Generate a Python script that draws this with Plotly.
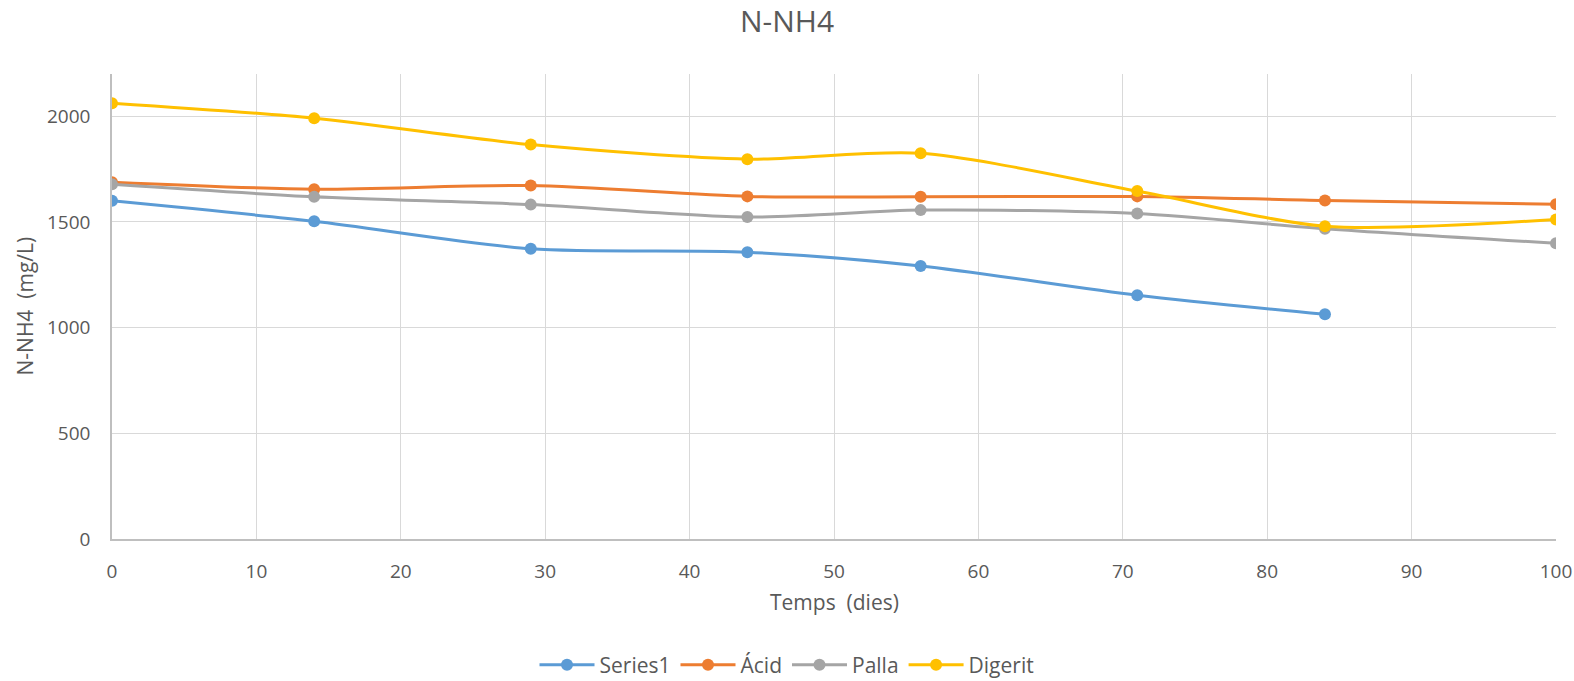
import plotly.graph_objects as go

days = [0, 14, 29, 44, 56, 71, 84, 100]
series1 = [1600, 1503, 1373, 1357, 1292, 1153, 1063, None]
acid = [1688, 1655, 1672, 1621, 1619, 1621, 1602, 1584]
palla = [1678, 1619, 1582, 1523, 1556, 1540, 1468, 1399]
digerit = [2062, 1991, 1866, 1797, 1825, 1646, 1480, 1512]

names = ["Series1", "Ácid", "Palla", "Digerit"]
colors = ["#5B9BD5", "#ED7D31", "#A5A5A5", "#FFC000"]
values = [series1, acid, palla, digerit]

x_title = "Temps  (dies)"
y_title = "N-NH4  (mg/L)"
chart_title = "N-NH4"

text_color = "#595959"
font_family = "Open Sans, Liberation Sans, sans-serif"

fig = go.Figure()
for name, col, vals in zip(names, colors, values):
    fig.add_trace(go.Scatter(
        x=days, y=vals, name=name, mode="lines+markers",
        line=dict(color=col, width=3, shape="spline", smoothing=0.8),
        marker=dict(color=col, size=12),
        connectgaps=False,
    ))

fig.update_layout(
    width=1574, height=681,
    paper_bgcolor="white", plot_bgcolor="white",
    margin=dict(l=112, r=18, t=74, b=142, autoexpand=False),
    font=dict(family=font_family, color=text_color, size=19),
    title=dict(text=chart_title, x=0.5, xanchor="center", y=0.968, yanchor="middle",
               font=dict(size=30, color=text_color, family=font_family)),
    showlegend=True,
    legend=dict(orientation="h", x=0.5, xanchor="center", xref="container",
                y=0.0235, yanchor="middle", yref="container",
                font=dict(size=21, color=text_color), itemwidth=55,
                traceorder="normal"),
    annotations=[
        dict(text=x_title, xref="paper", yref="paper", x=0.5, y=-63/465,
             xanchor="center", yanchor="middle", showarrow=False,
             font=dict(size=21, color=text_color)),
        dict(text=y_title, xref="paper", yref="paper", x=-88/1444, y=0.5,
             xanchor="center", yanchor="middle", showarrow=False, textangle=-90,
             font=dict(size=21, color=text_color)),
    ],
)

fig.update_xaxes(
    range=[0, 100], dtick=10, tick0=0, automargin=False,
    showgrid=True, gridcolor="#D9D9D9", gridwidth=1.3,
    showline=True, linecolor="#BFBFBF", linewidth=1.5,
    zeroline=False, ticks="", ticklabelstandoff=14,
    tickfont=dict(size=19, color=text_color),
)
fig.update_yaxes(
    range=[0, 2200], tickvals=[0, 500, 1000, 1500, 2000], automargin=False,
    showgrid=True, gridcolor="#D9D9D9", gridwidth=1.3,
    showline=True, linecolor="#BFBFBF", linewidth=1.5,
    zeroline=False, ticks="", ticklabelstandoff=16,
    tickfont=dict(size=19, color=text_color),
)

fig.write_html("out.html")
